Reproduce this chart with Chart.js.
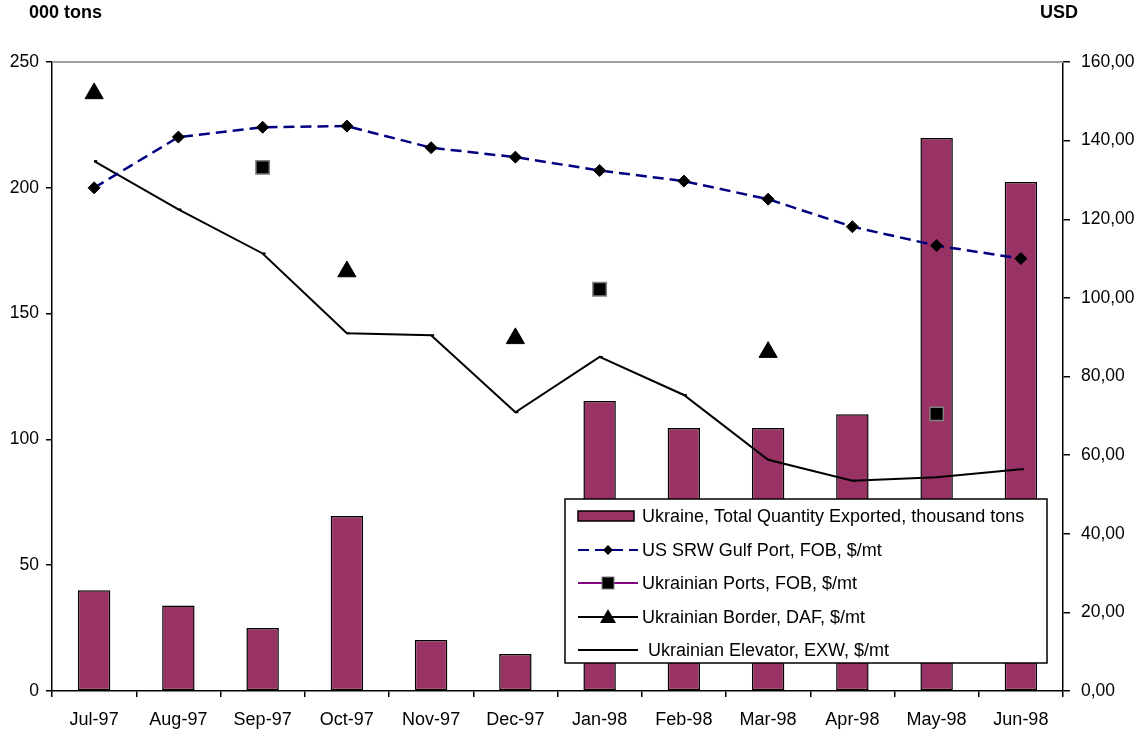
<!DOCTYPE html>
<html>
<head>
<meta charset="utf-8">
<script src="https://cdn.jsdelivr.net/npm/chart.js@4/dist/chart.umd.min.js"></script>
<style>
  html, body { margin: 0; padding: 0; background: #fff; }
  #wrap { position: relative; width: 1137px; height: 733px; }
  canvas { display: block; }
</style>
</head>
<body>
<div id="wrap"><canvas id="c" width="1137" height="733"></canvas></div>
<script>
// Months on the category axis
const months = ['Jul-97','Aug-97','Sep-97','Oct-97','Nov-97','Dec-97','Jan-98','Feb-98','Mar-98','Apr-98','May-98','Jun-98'];

// Ukraine, total quantity exported (thousand tons) – left axis
const exportedTons = [40, 34, 25, 69.6, 20.3, 14.7, 115.3, 104.5, 104.5, 110, 219.8, 202.3];

// Prices, USD per metric ton – right axis
const usSrwGulf = [128.0, 140.9, 143.4, 143.7, 138.2, 135.8, 132.4, 129.7, 125.1, 118.1, 113.3, 110.0];
const ukrPortsFob = [null, null, 133.2, null, null, null, 102.2, null, null, null, 70.5, null];
const ukrBorderDaf = [152.0, null, null, 106.7, null, 89.7, null, null, 86.2, null, null, null];
const ukrElevatorExw = [134.8, 122.5, 111.3, 91.0, 90.5, 70.9, 85.0, 75.3, 58.8, 53.5, 54.4, 56.4];

// Axis tick settings
const leftTicks = { min: 0, max: 250, step: 50 };
const rightTicks = { min: 0, max: 160, step: 20 };

const FONT = "'Liberation Sans', Arial, sans-serif";

// Titles above the two value axes
const axisTitles = {
  id: 'axisTitles',
  afterDraw(chart) {
    const ctx = chart.ctx;
    ctx.save();
    ctx.fillStyle = '#000';
    ctx.font = 'bold 18px ' + FONT;
    ctx.textBaseline = 'middle';
    ctx.textAlign = 'left';
    ctx.fillText('000 tons', 29, 13);
    ctx.fillText('USD', 1040, 13);
    ctx.restore();
  }
};

// Grey top border of the plot area
const topBorder = {
  id: 'topBorder',
  beforeDatasetsDraw(chart) {
    const { ctx, chartArea } = chart;
    ctx.save();
    ctx.strokeStyle = '#a0a0a0';
    ctx.lineWidth = 2;
    ctx.beginPath();
    ctx.moveTo(chartArea.left, chartArea.top);
    ctx.lineTo(chartArea.right, chartArea.top);
    ctx.stroke();
    ctx.restore();
  }
};

// Boxed legend inside the lower-right of the plot
const boxLegend = {
  id: 'boxLegend',
  afterDatasetsDraw(chart) {
    const ctx = chart.ctx;
    const ds = chart.data.datasets;
    const box = { x: 565, y: 499, w: 482, h: 164 };
    ctx.save();
    ctx.fillStyle = '#fff';
    ctx.fillRect(box.x, box.y, box.w, box.h);
    ctx.strokeStyle = '#000';
    ctx.lineWidth = 1.5;
    ctx.strokeRect(box.x, box.y, box.w, box.h);
    ctx.font = '18px ' + FONT;
    ctx.textBaseline = 'middle';
    ctx.textAlign = 'left';
    const rows = [516, 550, 583, 617, 650];
    const sx0 = 578, sx1 = 638;

    ds.forEach((d, i) => {
      const y = rows[i];
      ctx.save();
      if (d.type === 'bar') {
        ctx.fillStyle = d.backgroundColor;
        ctx.fillRect(sx0, y - 5, 56, 10);
        ctx.strokeStyle = '#000';
        ctx.lineWidth = 1.5;
        ctx.strokeRect(sx0, y - 5, 56, 10);
      } else {
        ctx.strokeStyle = d.legendLine || d.borderColor;
        ctx.lineWidth = 2;
        if (d.borderDash) ctx.setLineDash(d.borderDash);
        ctx.beginPath();
        ctx.moveTo(sx0, y);
        ctx.lineTo(sx1, y);
        ctx.stroke();
        ctx.setLineDash([]);
        const cx = (sx0 + sx1) / 2;
        ctx.fillStyle = d.pointBackgroundColor;
        ctx.strokeStyle = d.pointBorderColor;
        ctx.lineWidth = 1;
        if (d.pointStyle === 'rectRot') {
          ctx.beginPath();
          ctx.moveTo(cx, y - 5); ctx.lineTo(cx + 5, y); ctx.lineTo(cx, y + 5); ctx.lineTo(cx - 5, y);
          ctx.closePath(); ctx.fill();
        } else if (d.pointStyle === 'rect') {
          ctx.fillRect(cx - 6, y - 6, 12, 12);
          ctx.strokeRect(cx - 6, y - 6, 12, 12);
        } else if (d.pointStyle === 'triangle') {
          ctx.beginPath();
          ctx.moveTo(cx, y - 8); ctx.lineTo(cx + 8, y + 6); ctx.lineTo(cx - 8, y + 6);
          ctx.closePath(); ctx.fill();
        } else {
          ctx.fillRect(cx - 2, y - 1, 4, 2);
        }
      }
      ctx.restore();
      ctx.fillStyle = '#000';
      ctx.fillText(d.label, i === 4 ? 648 : 642, y + 1);
    });
    ctx.restore();
  }
};

const ctx = document.getElementById('c').getContext('2d');
new Chart(ctx, {
  data: {
    labels: months,
    datasets: [
      {
        type: 'bar',
        label: 'Ukraine, Total Quantity Exported, thousand tons',
        data: exportedTons,
        yAxisID: 'y',
        backgroundColor: '#993366',
        borderColor: '#000',
        borderWidth: 1.5,
        borderSkipped: false,
        categoryPercentage: 1,
        barPercentage: 0.385,
        order: 10
      },
      {
        type: 'line',
        label: 'US SRW Gulf Port, FOB, $/mt',
        data: usSrwGulf,
        yAxisID: 'y1',
        borderColor: '#000080',
        borderWidth: 2.5,
        borderDash: [11, 6],
        pointStyle: 'rectRot',
        pointRadius: 6,
        pointBackgroundColor: '#000',
        pointBorderColor: '#000',
        pointBorderWidth: 1,
        tension: 0,
        order: 2
      },
      {
        type: 'line',
        label: 'Ukrainian Ports, FOB, $/mt',
        data: ukrPortsFob,
        yAxisID: 'y1',
        showLine: false,
        borderColor: '#800080',
        legendLine: '#800080',
        pointStyle: 'rect',
        pointRadius: 9.5,
        pointBackgroundColor: '#000',
        pointBorderColor: '#808080',
        pointBorderWidth: 1.5,
        order: 1
      },
      {
        type: 'line',
        label: 'Ukrainian Border, DAF, $/mt',
        data: ukrBorderDaf,
        yAxisID: 'y1',
        showLine: false,
        borderColor: '#000',
        pointStyle: 'triangle',
        pointRadius: 10.5,
        pointBackgroundColor: '#000',
        pointBorderColor: '#000',
        pointBorderWidth: 1,
        order: 1
      },
      {
        type: 'line',
        label: 'Ukrainian Elevator, EXW, $/mt',
        data: ukrElevatorExw,
        yAxisID: 'y1',
        borderColor: '#000',
        borderWidth: 2,
        pointStyle: 'dash',
        pointRadius: 3,
        pointBackgroundColor: '#000',
        pointBorderColor: '#000',
        pointBorderWidth: 2,
        tension: 0,
        order: 3
      }
    ]
  },
  options: {
    responsive: false,
    animation: false,
    layout: { padding: { top: 62, left: 0, right: 0, bottom: 0 } },
    plugins: {
      legend: { display: false },
      tooltip: { enabled: false }
    },
    scales: {
      x: {
        offset: true,
        grid: {
          offset: true,
          drawOnChartArea: false,
          drawTicks: true,
          tickLength: 6,
          color: '#000',
          lineWidth: 1.5
        },
        border: { color: '#000', width: 1.5 },
        ticks: {
          color: '#000',
          font: { family: FONT, size: 18 },
          padding: 12,
          maxRotation: 0,
          autoSkip: false
        },
        afterFit(s) { s.height = 42; }
      },
      y: {
        position: 'left',
        min: leftTicks.min,
        max: leftTicks.max,
        grid: {
          drawOnChartArea: false,
          tickLength: 6,
          color: '#000',
          lineWidth: 1.5
        },
        border: { color: '#000', width: 1.5 },
        ticks: {
          stepSize: leftTicks.step,
          color: '#000',
          font: { family: FONT, size: 17.5 },
          padding: 7
        },
        afterFit(s) { s.width = 52; }
      },
      y1: {
        position: 'right',
        min: rightTicks.min,
        max: rightTicks.max,
        grid: {
          drawOnChartArea: false,
          tickLength: 7,
          color: '#000',
          lineWidth: 1.5
        },
        border: { color: '#000', width: 1.5 },
        ticks: {
          stepSize: rightTicks.step,
          color: '#000',
          font: { family: FONT, size: 17.5 },
          padding: 11,
          callback: v => v.toFixed(2).replace('.', ',')
        },
        afterFit(s) { s.width = 74; }
      }
    }
  },
  plugins: [topBorder, boxLegend, axisTitles]
});
</script>
</body>
</html>
